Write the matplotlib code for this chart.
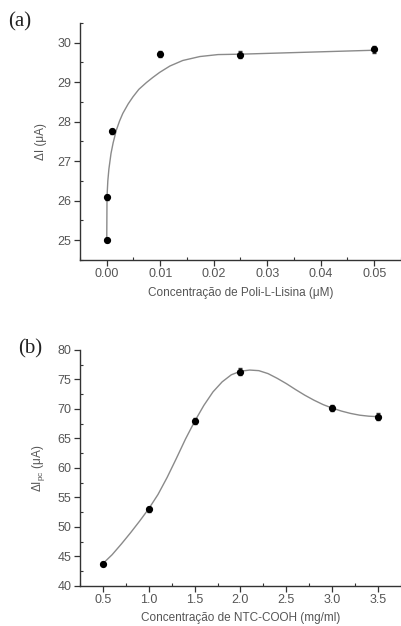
import matplotlib
matplotlib.use("Agg")
import matplotlib.pyplot as plt
from matplotlib.ticker import MultipleLocator, FormatStrFormatter

plt.rcParams['font.family'] = ['Liberation Sans', 'DejaVu Sans']

# ---- Panel (a) data ----
a_x = [0.0, 0.0001, 0.001, 0.01, 0.025, 0.05]
a_y = [25.0, 26.09, 27.76, 29.72, 29.70, 29.83]
a_err = [0.05, 0.06, 0.06, 0.08, 0.08, 0.08]
# fitted curve
a_cx = [0.0, 0.00005, 0.0002, 0.0004, 0.0008, 0.0012, 0.0018, 0.0024, 0.003,
        0.004, 0.0049, 0.006, 0.0074, 0.0086, 0.0099, 0.0118, 0.0142, 0.0174,
        0.0208, 0.025, 0.03, 0.04, 0.05]
a_cy = [25.0, 26.1, 26.5, 26.8, 27.2, 27.47, 27.79, 28.02, 28.21,
        28.45, 28.63, 28.82, 28.99, 29.12, 29.25, 29.41, 29.55, 29.65,
        29.70, 29.71, 29.73, 29.77, 29.81]

# ---- Panel (b) data ----
b_x = [0.5, 1.0, 1.5, 2.0, 3.0, 3.5]
b_y = [43.8, 53.0, 67.9, 76.3, 70.2, 68.7]
b_err = [0.3, 0.4, 0.5, 0.6, 0.5, 0.6]
b_cx = [0.5, 0.6, 0.7, 0.8, 0.9, 1.0, 1.1, 1.2, 1.3, 1.4, 1.5, 1.6, 1.7, 1.8,
        1.9, 2.0, 2.1, 2.2, 2.3, 2.4, 2.5, 2.6, 2.7, 2.8, 2.9, 3.0, 3.1, 3.2,
        3.3, 3.4, 3.5]
b_cy = [43.8, 45.3, 47.1, 49.0, 51.0, 53.1, 55.5, 58.4, 61.6, 64.9, 67.9,
        70.6, 72.9, 74.6, 75.8, 76.4, 76.6, 76.5, 76.0, 75.2, 74.3, 73.3,
        72.35, 71.5, 70.75, 70.15, 69.65, 69.25, 68.95, 68.78, 68.7]

fig = plt.figure(figsize=(4.01, 6.26), dpi=100)

axis_col = '#333333'
text_col = '#555555'
curve_col = '#8a8a8a'


def style(ax):
    for s in ('top', 'right'):
        ax.spines[s].set_visible(False)
    for s in ('left', 'bottom'):
        ax.spines[s].set_color(axis_col)
        ax.spines[s].set_linewidth(1.0)
    ax.tick_params(which='major', direction='out', length=4, width=0.9,
                   color=axis_col, labelsize=9, labelcolor=text_col, pad=2)
    ax.tick_params(which='minor', direction='in', length=2.5, width=0.8,
                   color=axis_col)


ax1 = fig.add_axes([0.1995, 0.5847, 0.8005, 0.3786])
ax1.plot(a_cx, a_cy, color=curve_col, lw=1.0, zorder=1)
ax1.errorbar(a_x, a_y, yerr=a_err, fmt='o', color='black', ms=4.2,
             ecolor='#333333', elinewidth=0.8, capsize=1.5, zorder=3)
ax1.set_xlim(-0.005, 0.055)
ax1.set_ylim(24.5, 30.5)
ax1.xaxis.set_major_locator(MultipleLocator(0.01))
ax1.xaxis.set_minor_locator(MultipleLocator(0.005))
ax1.yaxis.set_major_locator(MultipleLocator(1))
ax1.yaxis.set_minor_locator(MultipleLocator(0.5))
ax1.xaxis.set_major_formatter(FormatStrFormatter('%.2f'))
ax1.set_xticks([0.0, 0.01, 0.02, 0.03, 0.04, 0.05])
ax1.set_yticks([25, 26, 27, 28, 29, 30])
style(ax1)
ax1.set_xlabel('Concentração de Poli-L-Lisina (μM)', fontsize=8.5,
               color=text_col, labelpad=5)
ax1.set_ylabel('ΔI (μA)', fontsize=8.5, color=text_col, labelpad=8)

ax2 = fig.add_axes([0.1995, 0.0639, 0.8005, 0.377])
ax2.plot(b_cx, b_cy, color=curve_col, lw=1.0, zorder=1)
ax2.errorbar(b_x, b_y, yerr=b_err, fmt='o', color='black', ms=4.2,
             ecolor='#333333', elinewidth=0.8, capsize=1.5, zorder=3)
ax2.set_xlim(0.25, 3.75)
ax2.set_ylim(40, 80)
ax2.xaxis.set_major_locator(MultipleLocator(0.5))
ax2.xaxis.set_minor_locator(MultipleLocator(0.25))
ax2.yaxis.set_major_locator(MultipleLocator(5))
ax2.yaxis.set_minor_locator(MultipleLocator(2.5))
ax2.xaxis.set_major_formatter(FormatStrFormatter('%.1f'))
ax2.set_xticks([0.5, 1.0, 1.5, 2.0, 2.5, 3.0, 3.5])
style(ax2)
ax2.set_xlabel('Concentração de NTC-COOH (mg/ml)', fontsize=8.5,
               color=text_col, labelpad=4)
ax2.set_ylabel('ΔI$_{\\mathregular{pc}}$ (μA)', fontsize=8.5, color=text_col,
               labelpad=8)

fig.text(20 / 401, 1 - 22 / 626, '(a)', family=['Liberation Serif', 'DejaVu Serif'],
         fontsize=15, color='#222222', ha='center', va='center')
fig.text(30 / 401, 1 - 349 / 626, '(b)', family=['Liberation Serif', 'DejaVu Serif'],
         fontsize=15, color='#222222', ha='center', va='center')

fig.savefig('out.png', dpi=100)
